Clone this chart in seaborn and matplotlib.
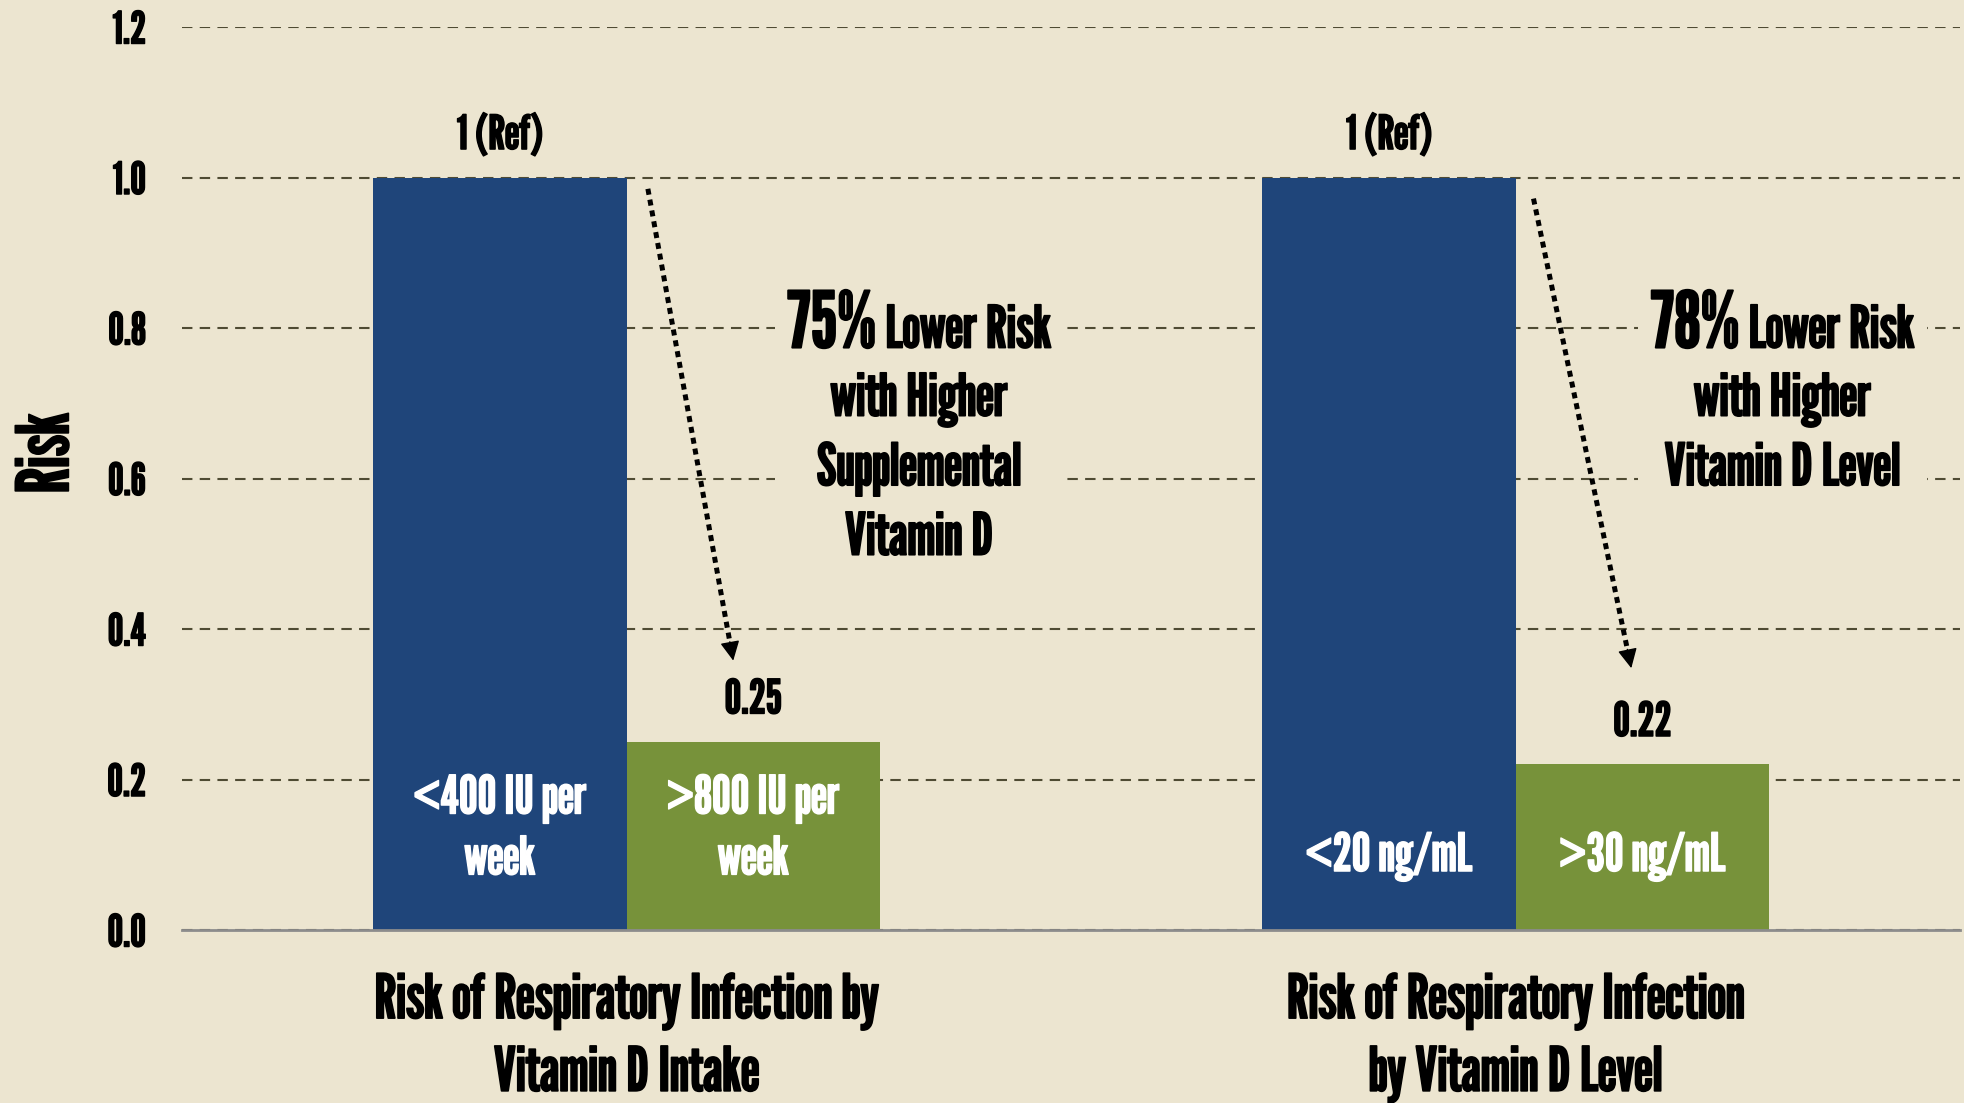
import pandas as pd
import matplotlib
matplotlib.use("Agg")
import matplotlib.pyplot as plt
import matplotlib.patheffects as pe
from matplotlib import font_manager as fm
from matplotlib.patches import Rectangle
from matplotlib.transforms import Bbox
import seaborn as sns

# Data
groups = ["Risk of Respiratory Infection by\nVitamin D Intake",
          "Risk of Respiratory Infection\nby Vitamin D Level"]
levels = ["Lower", "Higher"]
lower_risk = [1.0, 1.0]
higher_risk = [0.25, 0.22]
lower_names = ["<400 IU per\nweek", "<20 ng/mL"]
higher_names = [">800 IU per\nweek", ">30 ng/mL"]
value_labels_lower = ["1 (Ref)", "1 (Ref)"]
value_labels_higher = ["0.25", "0.22"]
notes_pct = ["75%", "78%"]
notes_rest = ["Lower Risk", "Lower Risk"]
notes_body = ["with Higher\nSupplemental\nVitamin D", "with Higher\nVitamin D Level"]
yticks = [0.0, 0.2, 0.4, 0.6, 0.8, 1.0, 1.2]

df = pd.DataFrame({
    "group": groups * 2,
    "level": [levels[0]] * 2 + [levels[1]] * 2,
    "risk": lower_risk + higher_risk,
})

bg = "#ECE5D0"
blue = "#1F457A"
green = "#77923A"
grid_col = "#4F4B33"

# pick a condensed gothic face
installed = {f.name for f in fm.fontManager.ttflist}
font = "DejaVu Sans"
for cand in ["League Gothic", "Oswald", "Fjalla One", "Antonio", "Pathway Gothic One", "Barlow Condensed"]:
    if cand in installed:
        font = cand
        break

sns.set_theme(style="white")
plt.rcParams["font.family"] = [font, "DejaVu Sans"]
plt.rcParams["font.weight"] = "normal"


def heavy(color="black", lw=1.0):
    # thicken the strokes a little, the reference face is heavier
    return [pe.withStroke(linewidth=lw, foreground=color)]


fig = plt.figure(figsize=(19.65, 11.03), dpi=100, facecolor=bg)
ax = fig.add_axes([0.0926, 0.1568, 0.905, 0.8187])
ax.set_facecolor(bg)

sns.barplot(data=df, x="group", y="risk", hue="level", order=groups,
            hue_order=levels, palette=[blue, green], width=0.57, linewidth=0,
            saturation=1, errorbar=None, legend=False, ax=ax, zorder=2)

ax.set_xlim(-0.5, 1.5)
ax.set_ylim(0, 1.2)
ax.set_yticks(yticks)
ax.set_yticklabels([f"{v:.1f}" for v in yticks], fontsize=32, color="black")
for lbl in ax.get_yticklabels():
    lbl.set_path_effects(heavy())
ax.yaxis.grid(True, linestyle=(0, (5, 3.5)), color=grid_col, linewidth=1.5)
ax.set_axisbelow(True)
for s in ["top", "right", "left"]:
    ax.spines[s].set_visible(False)
ax.spines["bottom"].set_color("#8C8C8C")
ax.spines["bottom"].set_linewidth(2)
ax.tick_params(axis="y", length=0, pad=26)

# category boundary ticks, Excel style
ax.set_xticks([-0.5, 0.5, 1.5], minor=True)
ax.tick_params(axis="x", which="minor", length=9, width=2, color="#8C8C8C", direction="out")
ax.tick_params(axis="x", which="major", length=0, pad=31)
for lbl in ax.get_xticklabels():
    lbl.set_fontsize(44)
    lbl.set_linespacing(1.35)
    lbl.set_color("black")
    lbl.set_path_effects(heavy(lw=1.2))
ax.set_xlabel("")
ax.set_ylabel("Risk", fontsize=52, color="black", path_effects=heavy(lw=1.2))
ax.yaxis.set_label_coords(-0.056, 0.528)

# value labels above bars
for cont, labs in zip(ax.containers, [value_labels_lower, value_labels_higher]):
    for t in ax.bar_label(cont, labels=labs, padding=14, fontsize=34, color="black"):
        t.set_path_effects(heavy())

# names inside bars
inside_y = [0.133, 0.097]
for cont, names in zip(ax.containers, [lower_names, higher_names]):
    for i, p in enumerate(cont.patches):
        ax.text(p.get_x() + p.get_width() / 2, inside_y[i], names[i], ha="center",
                va="center", color="white", fontsize=38, linespacing=1.34, zorder=3,
                path_effects=heavy("white"))

# annotation blocks: big percentage + rest of first line, then body lines
note_x = [0.329, 1.30]
note_base = 0.774
fig.canvas.draw()
rend = fig.canvas.get_renderer()
for i in range(2):
    body = ax.text(note_x[i], 0.742, notes_body[i], ha="center", va="top", fontsize=42,
                   linespacing=1.33, color="black", zorder=4, path_effects=heavy(lw=1.2))
    pct = ax.text(note_x[i], note_base, notes_pct[i], ha="right", va="baseline",
                  fontsize=56, color="black", zorder=4, path_effects=heavy(lw=1.4))
    rest = ax.text(note_x[i], note_base, " " + notes_rest[i], ha="left", va="baseline",
                   fontsize=42, color="black", zorder=4, path_effects=heavy(lw=1.2))
    w1 = pct.get_window_extent(rend).width
    w2 = rest.get_window_extent(rend).width
    # shift so that the whole first line is centred on note_x
    cx = ax.transData.transform((note_x[i], note_base))[0] + (w1 - w2) / 2
    x0 = ax.transData.inverted().transform((cx, 0))[0]
    pct.set_x(x0)
    rest.set_x(x0)
    # background patch hiding the gridlines behind the block
    ext = Bbox.union([t.get_window_extent(rend) for t in (body, pct, rest)])
    ext = ext.padded(12)
    (x_a, y_a), (x_b, y_b) = ax.transData.inverted().transform(ext.get_points())
    ax.add_patch(Rectangle((x_a, y_a), x_b - x_a, y_b - y_a, facecolor=bg,
                           edgecolor="none", zorder=1))

# dotted arrows: dotted shaft + solid head
arrow_start = [(0.024, 0.985), (1.020, 0.972)]
arrow_end = [(0.120, 0.358), (1.130, 0.348)]
for s, e in zip(arrow_start, arrow_end):
    mid = (s[0] + 0.96 * (e[0] - s[0]), s[1] + 0.96 * (e[1] - s[1]))
    ax.annotate("", xy=mid, xytext=s,
                arrowprops=dict(arrowstyle="-", linestyle=(0, (1.2, 1.0)), lw=3.6,
                                capstyle="butt", color="black", shrinkA=0, shrinkB=0),
                zorder=5)
    ax.annotate("", xy=e, xytext=mid,
                arrowprops=dict(arrowstyle="-|>", lw=1, color="black",
                                mutation_scale=30, shrinkA=0, shrinkB=0),
                zorder=5)

fig.savefig("out.png", dpi=100, facecolor=bg)
